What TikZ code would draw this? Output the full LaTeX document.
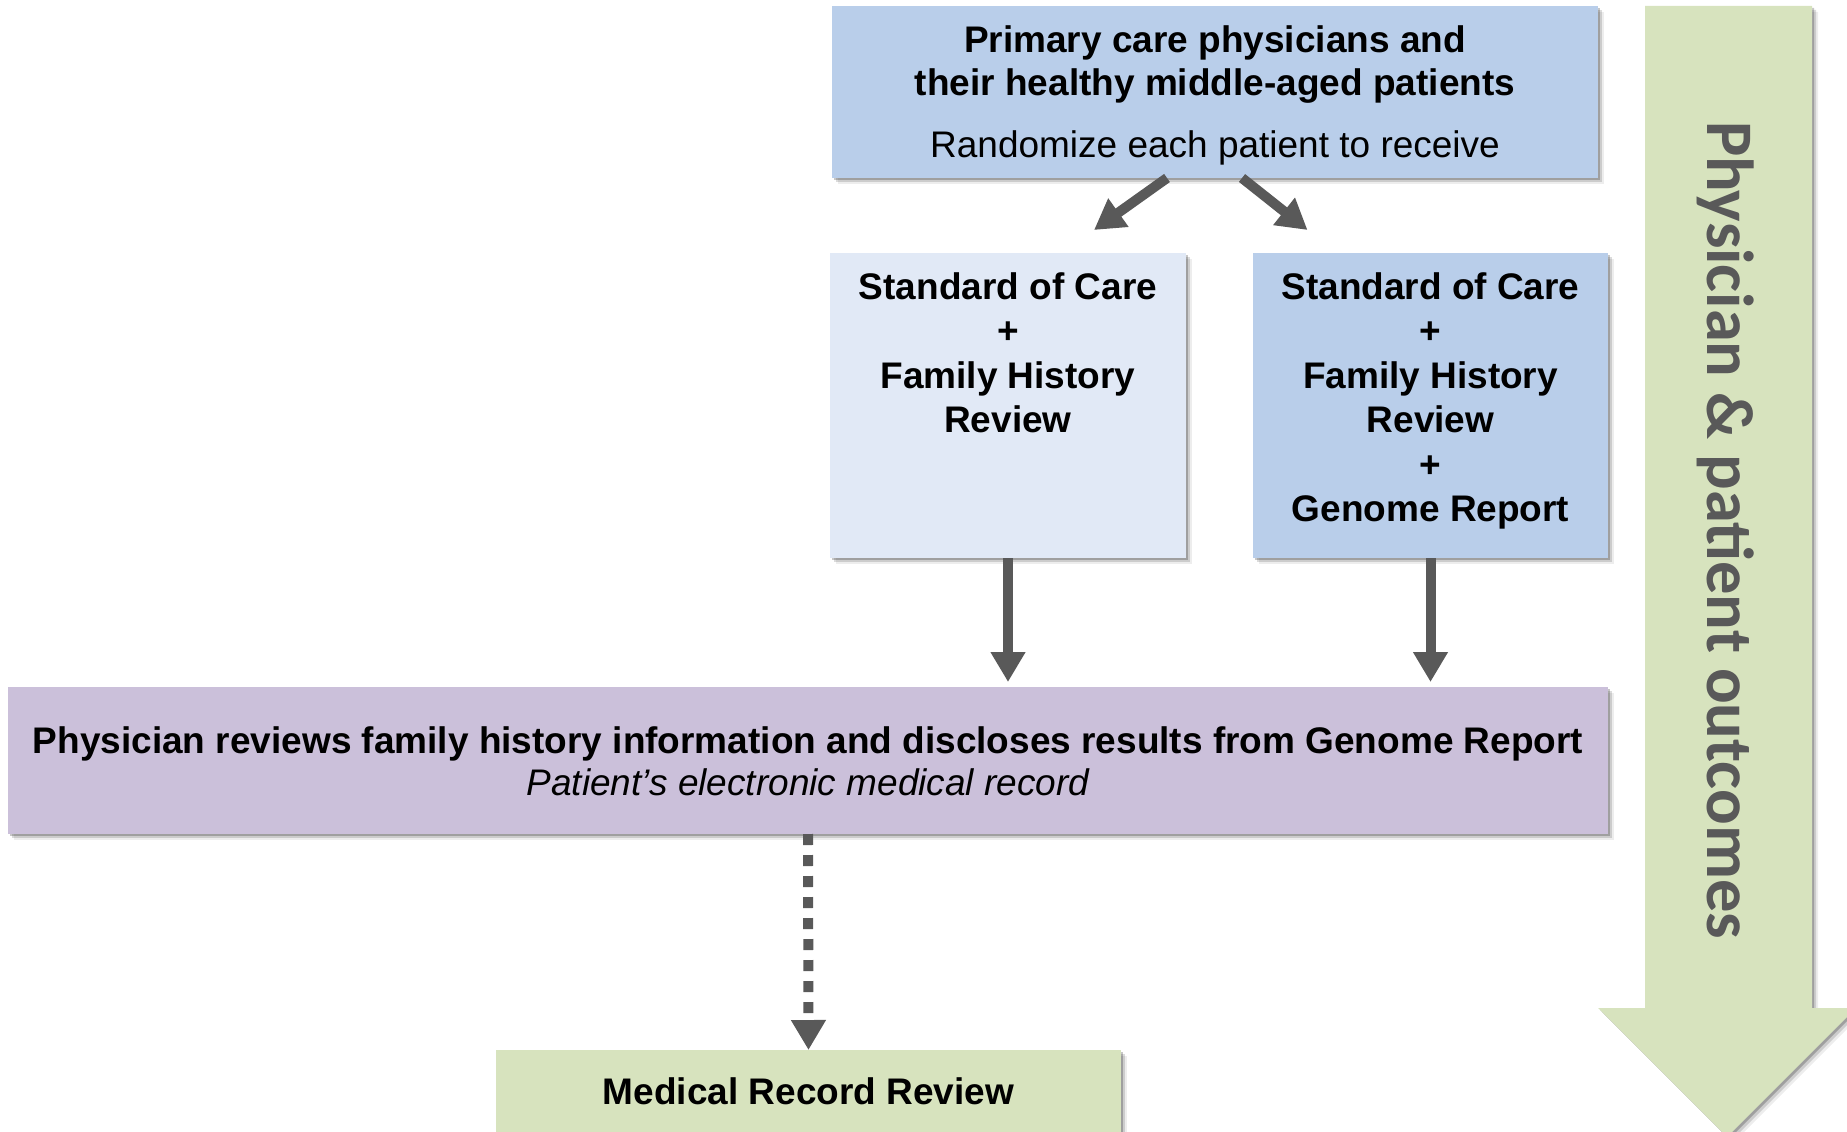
\documentclass[tikz,border=0pt]{standalone}
\usepackage{fontspec}
\setmainfont{Liberation Sans}
\newfontfamily\carlfont{Carlito}
\usetikzlibrary{arrows.meta,shadows}
\definecolor{topblue}{HTML}{B9CEEA}
\definecolor{lightblue}{HTML}{E1E9F6}
\definecolor{lavender}{HTML}{CBC0DA}
\definecolor{olivegreen}{HTML}{D7E3BE}
\definecolor{arrowgray}{HTML}{595959}
\begin{document}
\begin{tikzpicture}[x=1pt,y=-1pt,
  softshadow/.style={
    drop shadow={shadow xshift=2pt,shadow yshift=-2pt,opacity=.22,fill=black},
    drop shadow={shadow xshift=4pt,shadow yshift=-4pt,opacity=.14,fill=black},
    drop shadow={shadow xshift=6pt,shadow yshift=-6pt,opacity=.07,fill=black}},
  box/.style={rectangle,inner sep=0pt,outer sep=0pt,draw=none,softshadow},
  txt/.style={inner sep=0pt,outer sep=0pt,align=center,anchor=north,
    font=\fontsize{37pt}{44.5pt}\selectfont},
  conn/.style={draw=arrowgray,line width=10pt,-{Triangle[width=33pt,length=30pt]}},
  dconn/.style={conn,dash pattern=on 11pt off 10pt}]
\useasboundingbox (0,0) rectangle (1847,1132);
\clip (0,0) rectangle (1847,1132);

% big side arrow
\fill[olivegreen,softshadow] (1645,6) -- (1812,6) -- (1812,1008) -- (1856,1008)
  -- (1727,1137) -- (1598,1008) -- (1645,1008) -- cycle;
\node[inner sep=0pt,anchor=base,rotate=-90,text=arrowgray,
  font=\carlfont\bfseries\fontsize{66.5pt}{78pt}\selectfont] (side) at (1707,530)
  {Physician \& patient outcomes};

% boxes
\node[box,fill=topblue,minimum width=766pt,minimum height=172pt] (top) at (1215,92) {};
\node[box,fill=lightblue,minimum width=356pt,minimum height=305pt] (midL) at (1008,405.5) {};
\node[box,fill=topblue,minimum width=355pt,minimum height=305pt] (midR) at (1430.5,405.5) {};
\node[box,fill=lavender,minimum width=1600pt,minimum height=147pt] (pur) at (808,760.5) {};
\node[box,fill=olivegreen,minimum width=625pt,minimum height=110pt] (grn) at (808.5,1105) {};

% texts
\node[txt,font=\fontsize{37pt}{43pt}\selectfont] (topT) at ([yshift=-16pt]top.north)
  {\rule{0pt}{30pt}\bfseries Primary care physicians and\\
   \bfseries their healthy middle-aged patients\\[19pt]
   Randomize each patient to receive};
\node[txt] (midLT) at ([yshift=-16pt]midL.north)
  {\rule{0pt}{30pt}\bfseries Standard of Care\\ \bfseries +\\ \bfseries Family History\\ \bfseries Review};
\node[txt] (midRT) at ([yshift=-16pt]midR.north)
  {\rule{0pt}{30pt}\bfseries Standard of Care\\ \bfseries +\\ \bfseries Family History\\ \bfseries Review\\ \bfseries +\\ \bfseries Genome Report};
\node[txt,font=\fontsize{37pt}{42pt}\selectfont] (purT) at ([yshift=-36pt]pur.north)
  {\rule{0pt}{30pt}\bfseries Physician reviews family history information and discloses results from Genome Report\\
   \itshape Patient’s electronic medical record};
\node[txt] (grnT) at ([yshift=-24pt]grn.north)
  {\rule{0pt}{30pt}\bfseries Medical Record Review};

% connectors
\draw[conn] ([xshift=-48pt]top.south) -- ([xshift=86pt,yshift=23pt]midL.north);
\draw[conn] ([xshift=27pt]top.south) -- ([xshift=-123pt,yshift=23pt]midR.north);
\draw[conn] (midL.south) -- ([yshift=5pt]midL.south |- pur.north);
\draw[conn] (midR.south) -- ([yshift=5pt]midR.south |- pur.north);
\draw[dconn] (pur.south) -- (grn.north);
\end{tikzpicture}
\end{document}
